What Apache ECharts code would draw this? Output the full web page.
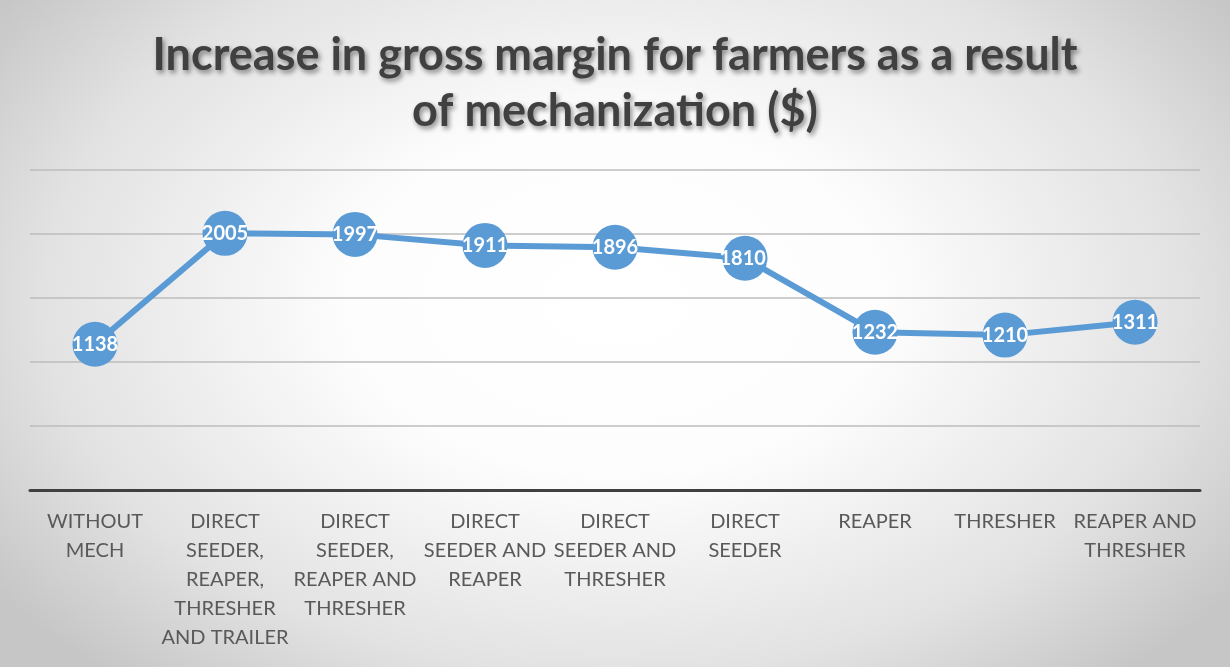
<!DOCTYPE html>
<html>
<head>
<meta charset="utf-8">
<script src="https://cdn.jsdelivr.net/npm/echarts@6/dist/echarts.min.js"></script>
<style>
  html, body { margin: 0; padding: 0; }
  #chart {
    width: 1230px; height: 667px;
    background: radial-gradient(ellipse 62% 75% at 50% 45%, #ffffff 0%, #fdfdfd 35%, #e2e2e2 75%, #c6c6c6 100%);
  }
</style>
</head>
<body>
<div id="chart"></div>
<script>
// categories (line breaks as in the original axis labels)
const categories = [
  'WITHOUT\nMECH',
  'DIRECT\nSEEDER,\nREAPER,\nTHRESHER\nAND TRAILER',
  'DIRECT\nSEEDER,\nREAPER AND\nTHRESHER',
  'DIRECT\nSEEDER AND\nREAPER',
  'DIRECT\nSEEDER AND\nTHRESHER',
  'DIRECT\nSEEDER',
  'REAPER',
  'THRESHER',
  'REAPER AND\nTHRESHER'
]
const grossMargin = [1138, 2005, 1997, 1911, 1896, 1810, 1232, 1210, 1311]
// data labels as shown on the chart (the 1810 one is cut off in the original)
const pointLabels = ['1138', '2005', '1997', '1911', '1896', '1810.', '1232', '1210', '1311']

const chart = echarts.init(document.getElementById('chart'))
chart.setOption({
  backgroundColor: 'transparent',
  title: {
    text: 'Increase in gross margin for farmers as a result\nof mechanization ($)',
    left: 'center',
    top: 22,
    textStyle: {
      fontFamily: 'Lato',
      fontWeight: 'bold',
      fontSize: 45,
      lineHeight: 56,
      color: '#404040',
      textShadowColor: 'rgba(0,0,0,0.45)',
      textShadowBlur: 5,
      textShadowOffsetX: 2,
      textShadowOffsetY: 3
    }
  },
  grid: { left: 30, right: 30, top: 170, bottom: 177 },
  xAxis: {
    type: 'category',
    data: categories,
    boundaryGap: true,
    axisLine: { lineStyle: { color: '#404040', width: 3 } },
    axisTick: { show: false },
    axisLabel: {
      interval: 0,
      color: '#595959',
      fontFamily: 'Lato',
      fontSize: 20,
      lineHeight: 29,
      margin: 17
    }
  },
  yAxis: {
    type: 'value',
    min: 0,
    max: 2500,
    interval: 500,
    axisLine: { show: false },
    axisTick: { show: false },
    axisLabel: { show: false },
    splitLine: { lineStyle: { color: '#bcbcbc', width: 1.5 } }
  },
  series: [{
    type: 'line',
    data: grossMargin,
    symbol: 'circle',
    symbolSize: 45,
    lineStyle: { color: '#5b9bd5', width: 6 },
    itemStyle: { color: '#5b9bd5' },
    label: {
      show: true,
      position: 'inside',
      formatter: (p) => pointLabels[p.dataIndex],
      color: '#ffffff',
      fontFamily: 'Lato',
      fontWeight: 'bold',
      fontSize: 20
    },
    animation: false
  }]
})
</script>
</body>
</html>
